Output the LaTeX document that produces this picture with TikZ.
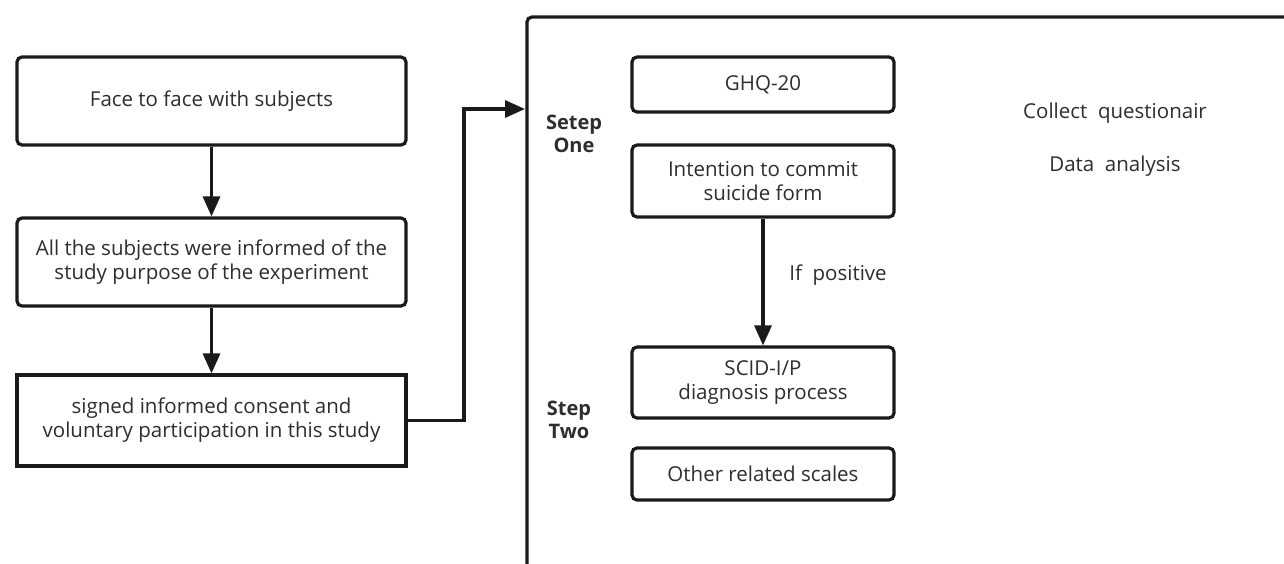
\documentclass[tikz,border=0pt]{standalone}
\usepackage{fontspec}
\setmainfont{Open Sans}
\usetikzlibrary{arrows.meta}
\definecolor{txt}{HTML}{2E2E2E}
\definecolor{ln}{HTML}{1A1A1A}
\tikzset{
  every node/.style={text=txt, font=\fontsize{20.5}{24}\selectfont},
  rbox/.style={draw=ln, line width=3.2pt, rounded corners=5pt, inner sep=0pt, align=center},
  sbox/.style={draw=ln, line width=3.2pt, inner sep=0pt, align=center},
  arr/.style={draw=ln, line width=3.2pt, -{Triangle[length=20pt,width=17pt]}},
  lab/.style={align=center, inner sep=0pt},
  blab/.style={align=center, inner sep=0pt, font=\bfseries\fontsize{20}{23}\selectfont}
}
\begin{document}
\begin{tikzpicture}[x=1pt,y=-1pt]
\useasboundingbox (0,0) rectangle (1284,563);
\clip (0,0) rectangle (1284,563);
\fill[white] (0,0) rectangle (1284,563);
% left column
\node[rbox, minimum width=389pt, minimum height=88pt] (b1) at (211.5,101) {Face to face with subjects};
\node[rbox, minimum width=389pt, minimum height=88pt] (b2) at (211.5,262) {All the subjects were informed of the\\study purpose of the experiment};
\node[sbox, minimum width=389pt, minimum height=91pt] (b3) at (211.5,420.5) {signed informed consent and\\voluntary participation in this study};
\draw[arr] (b1.south) -- (b2.north);
\draw[arr] (b2.south) -- (b3.north);
% big open frame
\draw[draw=ln, line width=3.2pt, rounded corners=5pt] (527,570) -- (527,17) -- (1295,17);
\coordinate (bend) at (464,109);
\coordinate (entry) at (525,109);
\draw[arr] (b3.east) -| (bend) -- (entry);
% inner boxes
\node[rbox, minimum width=262pt, minimum height=55pt] (g) at (763,84.5) {GHQ-20};
\node[rbox, minimum width=262pt, minimum height=72pt] (i) at (763,181) {Intention to commit\\suicide form};
\node[rbox, minimum width=262pt, minimum height=71pt] (s) at (763,382.5) {SCID-I/P\\diagnosis process};
\node[rbox, minimum width=262pt, minimum height=52pt] (o) at (763,474) {Other related scales};
\draw[arr] (i.south) -- (s.north);
% labels
\node[blab] (one) at (574,134) {Setep\\One};
\node[blab] (two) at (569,420) {Step\\Two};
\node[lab] (pos) at (838,275) {If\ \ positive};
\node[lab] (col) at (1115,113) {Collect\ \ questionair};
\node[lab] (dat) at (1115,166) {Data\ \ analysis};
\end{tikzpicture}
\end{document}
